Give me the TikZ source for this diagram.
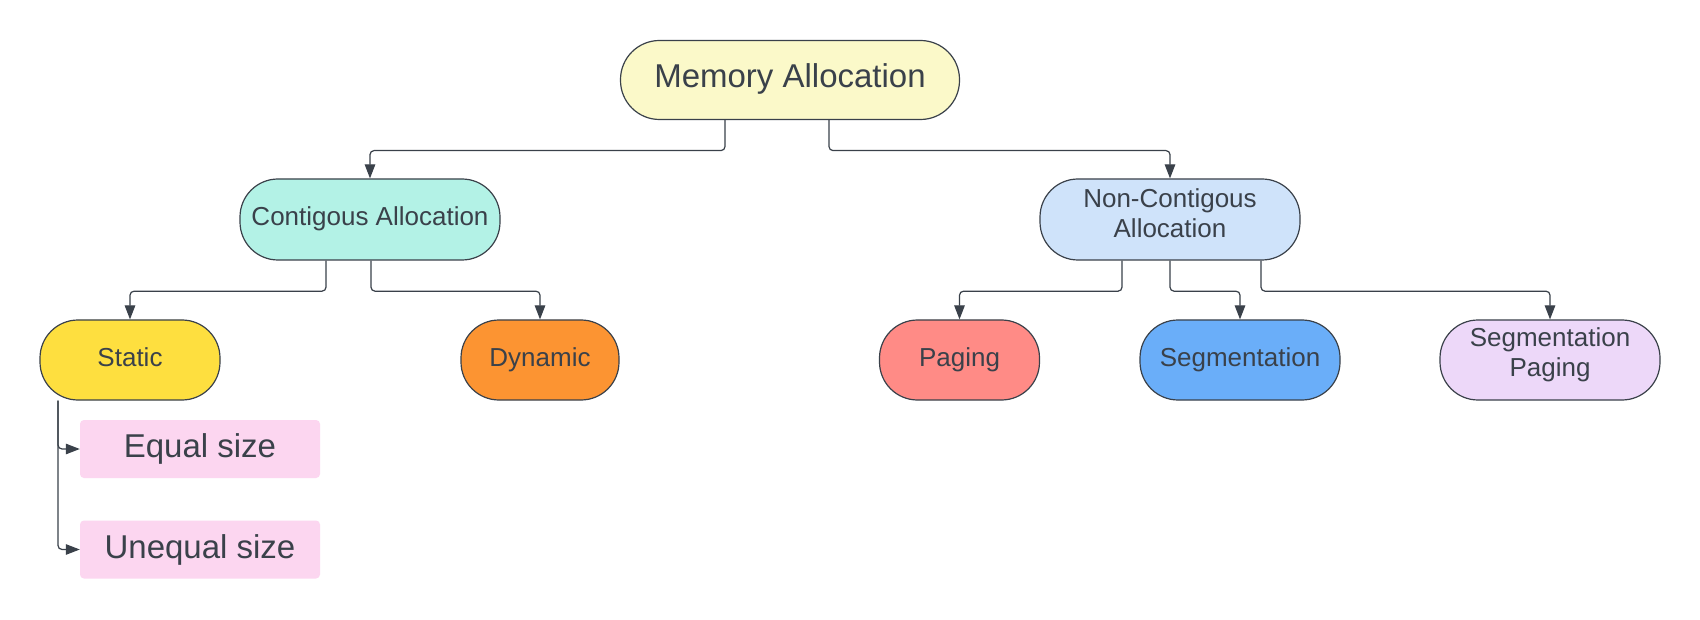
\documentclass[tikz,border=0pt]{standalone}
\usepackage{fontspec}
\setmainfont{Liberation Sans}
\usetikzlibrary{arrows.meta,backgrounds}
\definecolor{ink}{HTML}{3A414A}
\definecolor{cMem}{HTML}{FBF9C9}
\definecolor{cCon}{HTML}{B3F2E6}
\definecolor{cNon}{HTML}{CFE3FA}
\definecolor{cStatic}{HTML}{FEDF3F}
\definecolor{cDyn}{HTML}{FC9432}
\definecolor{cPag}{HTML}{FF8B86}
\definecolor{cSeg}{HTML}{6AAEF9}
\definecolor{cSegP}{HTML}{EDD8F9}
\definecolor{cLeaf}{HTML}{FCD6F0}
\begin{document}
\begin{tikzpicture}[x=1pt,y=-1pt,
  box/.style={draw=ink, line width=1.2pt, rounded corners=38pt, align=center, text=ink, inner sep=0pt,
    font=\fontsize{26}{30}\selectfont, minimum height=80pt, text depth=6pt},
  conn/.style={draw=ink, line width=1.2pt, rounded corners=4pt, -{Triangle[length=14pt,width=10.5pt]}},
  leaf/.style={fill=cLeaf, rounded corners=4pt, text=ink, inner sep=0pt,
    font=\fontsize{33}{38}\selectfont, minimum width=240pt, minimum height=58pt}]
\useasboundingbox (0,0) rectangle (1700,620);

\node[box, fill=cMem, minimum width=339pt, minimum height=79pt, rounded corners=39pt,
  font=\fontsize{33}{38}\selectfont, text depth=8pt] (mem) at (790,80) {Memory Allocation};
\node[box, fill=cCon, minimum width=260pt, minimum height=81pt] (con) at (370,219.5) {Contigous Allocation};
\node[box, fill=cNon, minimum width=260pt, minimum height=81pt, text depth=12pt] (non) at (1170,219.5) {Non-Contigous\\Allocation};
\node[box, fill=cStatic, minimum width=180pt] (static) at (130,360) {Static};
\node[box, fill=cDyn, minimum width=158pt] (dyn) at (540,360) {Dynamic};
\node[box, fill=cPag, minimum width=160pt] (pag) at (959.5,360) {Paging};
\node[box, fill=cSeg, minimum width=200pt] (seg) at (1240,360) {Segmentation};
\node[box, fill=cSegP, minimum width=220pt, text depth=16pt] (segp) at (1550,360) {Segmentation\\Paging};
\node[leaf] (eq) at (200,449) {Equal size};
\node[leaf] (uneq) at (200,549.5) {Unequal size};

\begin{scope}[on background layer]
\fill[white] (0,0) rectangle (1700,620);
\draw[conn] ([xshift=-65pt]mem.south) -- ++(0,30.5) -| (con.north);
\draw[conn] ([xshift=39pt]mem.south) -- ++(0,30.5) -| (non.north);
\draw[conn] ([xshift=-44pt]con.south) -- ++(0,30.6) -| (static.north);
\draw[conn] ([xshift=1pt]con.south) -- ++(0,30.6) -| (dyn.north);
\draw[conn] ([xshift=-48pt]non.south) -- ++(0,30.6) -| (pag.north);
\draw[conn] (non.south) -- ++(0,30.6) -| (seg.north);
\draw[conn] ([xshift=91pt]non.south) -- ++(0,30.6) -| (segp.north);
\draw[conn] ([xshift=-72pt]static.south) |- (eq.west);
\draw[conn] ([xshift=-72pt]static.south) |- (uneq.west);
\end{scope}
\end{tikzpicture}
\end{document}
